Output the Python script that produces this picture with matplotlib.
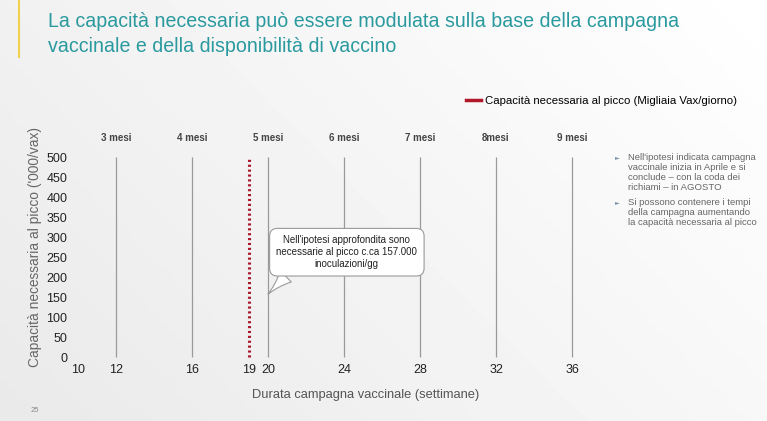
import numpy as np
import matplotlib.pyplot as plt
from matplotlib.lines import Line2D

# dati del grafico
settimane = [12, 16, 20, 24, 28, 32, 36]
mesi = ['3 mesi', '4 mesi', '5 mesi', '6 mesi', '7 mesi', '8mesi', '9 mesi']
xtick_vals = [10, 12, 16, 19, 20, 24, 28, 32, 36]
ytick_vals = [0, 50, 100, 150, 200, 250, 300, 350, 400, 450, 500]
settimana_picco = 19
capacita_picco = 157  # migliaia di vaccinazioni al giorno

plt.rcParams['font.family'] = ['Liberation Sans', 'DejaVu Sans']

W, H = 767, 421
fig = plt.figure(figsize=(W / 100, H / 100), dpi=100)

# sfondo sfumato
bg = fig.add_axes([0, 0, 1, 1], zorder=-10)
gx = np.linspace(0, 1, 200)
gy = np.linspace(0, 1, 120)
GX, GY = np.meshgrid(gx, gy)
grad = 0.915 + 0.055 * GX + 0.03 * (1 - GY)
bg.imshow(np.clip(grad, 0, 1), cmap='gray', vmin=0, vmax=1, aspect='auto',
          extent=[0, 1, 0, 1], origin='upper')
bg.set_axis_off()

# titolo
fig.add_artist(Line2D([19 / W, 19 / W], [1, 1 - 57 / H], color='#f0d24e', lw=1.5))
fig.text(48 / W, 1 - 12 / H,
         'La capacità necessaria può essere modulata sulla base della campagna\n'
         'vaccinale e della disponibilità di vaccino',
         fontsize=14.1, color='#2a9a9f', va='top', ha='left', linespacing=1.42)

# area del grafico
ax = fig.add_axes([70 / W, 1 - 360 / H, 530 / W, 210 / H])
ax.set_facecolor('none')
ax.set_xlim(10 + (70 - 78) / 19, 10 + (600 - 78) / 19)
ax.set_ylim(-7.5, 517.5)
for s in ax.spines.values():
    s.set_visible(False)

ax.vlines(settimane, 0, 500, color='#9a9a9a', lw=0.9)
ax.vlines(settimana_picco, 0, 500, color='#a8172a', lw=2.2, linestyles=(0, (0.7, 0.9)))

for w, m in zip(settimane, mesi):
    ax.text(w, 547, m, ha='center', va='center', fontsize=7, fontweight='bold',
            color='#444444', clip_on=False)

ax.set_xticks(xtick_vals)
ax.set_xticklabels([str(v) for v in xtick_vals])
ax.set_yticks(ytick_vals)
ax.tick_params(axis='both', length=0, labelsize=9, colors='#222222')
ax.tick_params(axis='x', pad=3)
ax.tick_params(axis='y', pad=2)

ax.set_ylabel("Capacità necessaria al picco ('000/vax)", fontsize=9.9, color='#666666')
ax.yaxis.set_label_coords((42 - 70) / 530, (360 - 247) / 210)
ax.set_xlabel('Durata campagna vaccinale (settimane)', fontsize=9.3, color='#555555')
ax.xaxis.set_label_coords((366 - 70) / 530, (360 - 389) / 210)

# fumetto
ax.annotate("Nell'ipotesi approfondita sono\nnecessarie al picco c.ca 157.000\ninoculazioni/gg",
            xy=(20, capacita_picco), xytext=(24.15, 262),
            ha='center', va='center', fontsize=7, color='#222222', linespacing=1.25,
            bbox=dict(boxstyle='round,pad=0.7,rounding_size=0.8', fc='white',
                      ec='#9a9a9a', lw=0.8),
            arrowprops=dict(arrowstyle='wedge,tail_width=1.6,shrink_factor=0.35',
                            fc='white', ec='#9a9a9a', lw=0.8, relpos=(0.13, 0.05),
                            shrinkA=0, shrinkB=0))

# legenda
fig.legend(handles=[Line2D([], [], color='#b0182a', lw=2.5)],
           labels=['Capacità necessaria al picco (Migliaia Vax/giorno)'],
           loc='center left', bbox_to_anchor=(466 / W, 1 - 101 / H),
           frameon=False, handlelength=1.3, handletextpad=0.4,
           borderpad=0, borderaxespad=0, fontsize=8.2)

# note a destra
note = ["Nell'ipotesi indicata campagna\nvaccinale inizia in Aprile e si\n"
        "conclude – con la coda dei\nrichiami – in AGOSTO",
        "Si possono contenere i tempi\ndella campagna aumentando\n"
        "la capacità necessaria al picco"]
note_y = [153, 198]
for testo, yp in zip(note, note_y):
    fig.text(615 / W, 1 - (yp + 5) / H, '►', fontsize=4.5, color='#7f93aa',
             va='center', ha='left', family='DejaVu Sans')
    fig.text(628 / W, 1 - yp / H, testo, fontsize=6.8, color='#666666',
             va='top', ha='left', linespacing=1.12)

fig.text(35 / W, 1 - 410 / H, '25', fontsize=5.5, color='#888888',
         ha='center', va='center')

fig.savefig('out.png', dpi=100)
